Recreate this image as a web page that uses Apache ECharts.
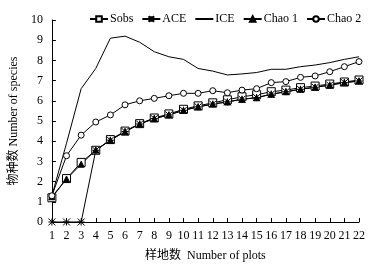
<!DOCTYPE html>
<html>
<head>
<meta charset="utf-8">
<script src="https://cdn.jsdelivr.net/npm/echarts@6/dist/echarts.min.js"></script>
<style>
  html, body { margin: 0; padding: 0; background: #fff; }
  #main { width: 374px; height: 267px; }
</style>
</head>
<body>
<div id="main"></div>
<script>
// 样地数
var plots = ['1','2','3','4','5','6','7','8','9','10','11','12','13','14','15','16','17','18','19','20','21','22'];
var sobs  = [1.2, 2.15, 2.95, 3.55, 4.08, 4.5, 4.87, 5.15, 5.35, 5.58, 5.75, 5.9, 6.05, 6.2, 6.3, 6.45, 6.53, 6.65, 6.73, 6.83, 6.93, 7.03];
var ace   = [0, 0, 0, 3.55, 4.05, 4.48, 4.85, 5.12, 5.3, 5.53, 5.7, 5.84, 5.95, 6.08, 6.16, 6.33, 6.45, 6.57, 6.67, 6.78, 6.9, 6.98];
var ice   = [1.3, 3.9, 6.6, 7.6, 9.1, 9.2, 8.9, 8.43, 8.18, 8.05, 7.6, 7.47, 7.28, 7.33, 7.4, 7.56, 7.56, 7.69, 7.77, 7.89, 8.05, 8.18];
var chao1 = [1.25, 2.13, 2.86, 3.56, 4.05, 4.47, 4.85, 5.12, 5.3, 5.53, 5.7, 5.84, 5.94, 6.07, 6.15, 6.32, 6.45, 6.57, 6.67, 6.77, 6.9, 6.98];
var chao2 = [1.3, 3.28, 4.3, 4.95, 5.3, 5.8, 6.0, 6.12, 6.25, 6.37, 6.37, 6.5, 6.4, 6.53, 6.6, 6.9, 6.95, 7.16, 7.23, 7.44, 7.69, 7.94];

var font = "'Liberation Serif', 'Times New Roman', 'Noto Sans CJK SC', serif";
var asterisk = 'path://M0,0L10,10M10,0L0,10M5,0L5,10M0,5L10,5';

var chart = echarts.init(document.getElementById('main'));

function mkSeries(name, data, symbol, size, fill) {
  return {
    name: name,
    type: 'line',
    data: data,
    symbol: symbol,
    symbolSize: size,
    showSymbol: symbol !== 'none',
    lineStyle: { color: '#000', width: 1 },
    itemStyle: { color: fill, borderColor: '#000', borderWidth: 1 },
    emphasis: { disabled: true },
    animation: false
  };
}

var option = {
  backgroundColor: '#fff',
  textStyle: { fontFamily: font },
  legend: {
    left: 89,
    top: 13,
    width: 290,
    padding: 0,
    itemWidth: 18,
    itemHeight: 7,
    itemGap: 8,
    textStyle: { fontFamily: font, fontSize: 12, color: '#000', padding: [0, 0, 0, -3] },
    data: [
      'Sobs', 'ACE',
      { name: 'ICE', itemStyle: { color: 'transparent', borderColor: 'transparent' } },
      'Chao 1', 'Chao 2'
    ]
  },
  grid: { left: 41, right: 15, top: 20, bottom: 45 },
  xAxis: {
    type: 'category',
    data: plots,
    boundaryGap: false,
    name: '样地数  Number of plots',
    nameLocation: 'middle',
    nameGap: 28,
    nameTextStyle: { fontFamily: font, fontSize: 12, color: '#000' },
    axisLine: { lineStyle: { color: '#000', width: 1 } },
    axisTick: { inside: true, length: 4, lineStyle: { color: '#000' }, alignWithLabel: true },
    axisLabel: { color: '#000', fontSize: 12, fontFamily: font, margin: 8, interval: 0 },
    splitLine: { show: false }
  },
  yAxis: {
    type: 'value',
    min: 0,
    max: 10,
    interval: 1,
    name: '物种数 Number of species',
    nameLocation: 'middle',
    nameGap: 28,
    nameTextStyle: { fontFamily: font, fontSize: 12, color: '#000' },
    axisLine: { show: true, lineStyle: { color: '#000', width: 1 } },
    axisTick: { show: true, inside: true, length: 4, lineStyle: { color: '#000' } },
    axisLabel: { color: '#000', fontSize: 12, fontFamily: font, margin: 9 },
    splitLine: { show: false }
  },
  series: [
    mkSeries('Sobs', sobs, 'rect', 8, '#fff'),
    mkSeries('ACE', ace, asterisk, 7, 'none'),
    mkSeries('ICE', ice, 'none', 0, '#000'),
    mkSeries('Chao 1', chao1, 'triangle', 6, '#000'),
    mkSeries('Chao 2', chao2, 'circle', 6, '#fff')
  ]
};

chart.setOption(option);
</script>
</body>
</html>
